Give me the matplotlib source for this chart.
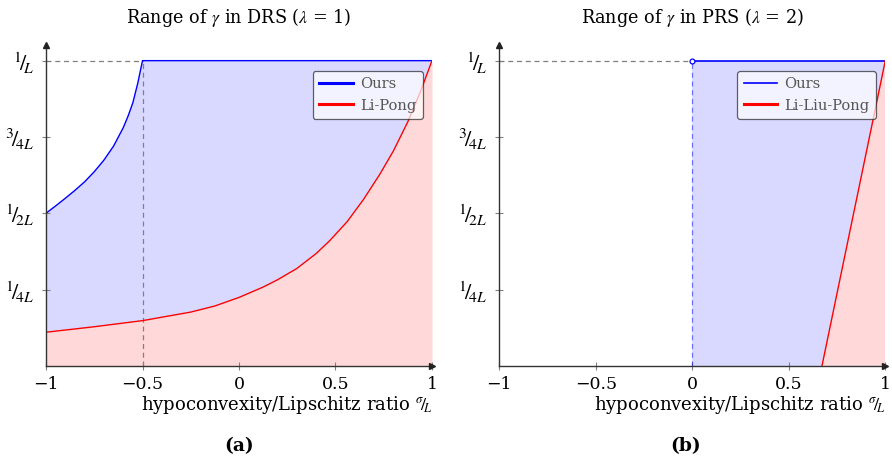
import matplotlib
matplotlib.use("Agg")
import matplotlib.pyplot as plt
import numpy as np

plt.rcParams['font.family'] = ['DejaVu Serif']
plt.rcParams['mathtext.fontset'] = 'stix'

# ---------------- data ----------------
# (a) DRS, lambda = 1
drs_ours_x = [-1.0, -0.95, -0.9, -0.85, -0.8, -0.75, -0.7, -0.65, -0.6,
              -0.575, -0.55, -0.525, -0.5, 1.0]
drs_ours_y = [0.500, 0.524, 0.549, 0.575, 0.603, 0.636, 0.674, 0.720, 0.780,
              0.818, 0.862, 0.925, 1.000, 1.000]
drs_lp_x = [-1.0, -0.75, -0.5, -0.25, -0.125, 0.0, 0.125, 0.2, 0.3, 0.4, 0.47,
            0.56, 0.645, 0.73, 0.8, 0.875, 0.94, 1.0]
drs_lp_y = [0.110, 0.128, 0.148, 0.176, 0.196, 0.224, 0.258, 0.282, 0.319,
            0.368, 0.410, 0.472, 0.545, 0.628, 0.704, 0.800, 0.898, 1.000]
drs_kink = -0.5

# (b) PRS, lambda = 2
prs_ours_x = [0.0, 1.0]
prs_ours_y = [1.0, 1.0]
prs_llp_x = [0.672, 1.0]
prs_llp_y = [0.0, 1.0]

xticks = [-1, -0.5, 0, 0.5, 1]
xticklabels = ['\u22121', '\u22120.5', '0', '0.5', '1']
yticks = [0.25, 0.5, 0.75, 1.0]
yticklabels = [r'${}^{1}\!/\!{}_{4L}$', r'${}^{1}\!/\!{}_{2L}$',
               r'${}^{3}\!/\!{}_{4L}$', r'${}^{1}\!/\!{}_{L}$']

titles = [r'Range of $\gamma$ in DRS ($\lambda$ = 1)',
          r'Range of $\gamma$ in PRS ($\lambda$ = 2)']
xlabel = r'hypoconvexity/Lipschitz ratio ${}^{\sigma}\!/\!{}_{L}$'
sublabels = ['(a)', '(b)']
legend_names = [['Ours', 'Li-Pong'], ['Ours', 'Li-Liu-Pong']]

BLUE = '#0000FF'
RED = '#FF0000'
BLUE_FILL = '#D9D9FF'
RED_FILL = '#FFD9D9'
GRAY = '#808080'

fig = plt.figure(figsize=(8.92, 4.68), dpi=100)
W, H = 892, 468
axL = fig.add_axes([46 / W, 1 - 365.8 / H, 386 / W, (365.8 - 45.4) / H])
axR = fig.add_axes([499.3 / W, 1 - 365.8 / H, 386 / W, (365.8 - 45.4) / H])


def style(ax, title, sub, center_px):
    ax.set_xlim(-1, 1)
    ax.set_ylim(0, 1.05)
    for s in ['top', 'right']:
        ax.spines[s].set_visible(False)
    for s in ['left', 'bottom']:
        ax.spines[s].set_color('#333333')
        ax.spines[s].set_linewidth(1.0)
        ax.spines[s].set_zorder(6)
    ax.plot(0, 1, marker='^', color='#222222', markersize=4,
            transform=ax.transAxes, clip_on=False, zorder=7)
    ax.plot(1, 0, marker='>', color='#222222', markersize=4,
            transform=ax.transAxes, clip_on=False, zorder=7)
    ax.set_xticks(xticks)
    ax.set_xticklabels(xticklabels)
    ax.set_yticks(yticks)
    ax.set_yticklabels(yticklabels)
    ax.tick_params(direction='inout', length=6, width=0.8, color=GRAY,
                   labelsize=12.5, labelcolor='black')
    ax.tick_params(axis='y', labelsize=16, pad=6)
    ax.tick_params(axis='x', pad=4)
    ax.set_title(title, fontsize=12.7, pad=16)
    ax.set_xlabel(xlabel, fontsize=13, loc='right', labelpad=1)
    fig.text(center_px / W, 1 - 446 / H, sub, fontsize=13.5, fontweight='bold',
             ha='center', va='center')
    ax.set_facecolor('white')


def add_legend(ax, names, lw1):
    h1, = ax.plot([], [], color=BLUE, lw=lw1)
    h2, = ax.plot([], [], color=RED, lw=2.2)
    leg = ax.legend([h1, h2], names, loc='upper right',
                    bbox_to_anchor=(0.976, 0.921), borderaxespad=0,
                    fontsize=10.5, fancybox=True,
                    framealpha=0.7, edgecolor='#222222', handlelength=2.3,
                    handletextpad=0.5, borderpad=0.45, labelspacing=0.5)
    leg.get_frame().set_linewidth(0.9)
    leg.set_zorder(10)
    for t in leg.get_texts():
        t.set_color('#555555')


# ---- left panel ----
ax = axL
poly_x = list(drs_ours_x) + list(drs_lp_x[::-1])
poly_y = list(drs_ours_y) + list(drs_lp_y[::-1])
ax.fill(poly_x, poly_y, color=BLUE_FILL, lw=0, zorder=1)
ax.fill_between(drs_lp_x, 0, drs_lp_y, color=RED_FILL, lw=0, zorder=1)
ax.plot([-1, drs_kink], [1, 1], color=GRAY, ls=(0, (4, 3)), lw=0.9, zorder=3)
ax.plot([drs_kink, drs_kink], [0, 1], color=GRAY, ls=(0, (4, 3)), lw=0.9, zorder=3)
ax.plot(drs_ours_x, drs_ours_y, color=BLUE, lw=1.0, zorder=4)
ax.plot(drs_lp_x, drs_lp_y, color=RED, lw=1.0, zorder=4)
style(ax, titles[0], sublabels[0], 239)
add_legend(ax, legend_names[0], 2.2)

# ---- right panel ----
ax = axR
ax.fill_between(prs_ours_x, 0, prs_ours_y, color=BLUE_FILL, lw=0, zorder=1)
ax.fill([prs_llp_x[0], prs_llp_x[1], prs_llp_x[1]],
        [prs_llp_y[0], prs_llp_y[1], 0], color=RED_FILL, lw=0, zorder=2)
ax.plot([-1, prs_ours_x[0]], [1, 1], color=GRAY, ls=(0, (4, 3)), lw=0.9, zorder=3)
ax.plot([prs_ours_x[0], prs_ours_x[0]], [0, 1], color=BLUE, alpha=0.5,
        ls=(0, (4, 3)), lw=0.9, zorder=3)
ax.plot(prs_ours_x, prs_ours_y, color=BLUE, lw=1.2, zorder=4)
ax.plot(prs_llp_x, prs_llp_y, color=RED, lw=1.0, zorder=4)
ax.plot([prs_ours_x[0]], [prs_ours_y[0]], marker='o', markersize=3.5,
        markerfacecolor='white', markeredgecolor=BLUE, markeredgewidth=0.9,
        zorder=5, clip_on=False)
style(ax, titles[1], sublabels[1], 686)
add_legend(ax, legend_names[1], 1.2)

fig.savefig('out.png', dpi=100)
